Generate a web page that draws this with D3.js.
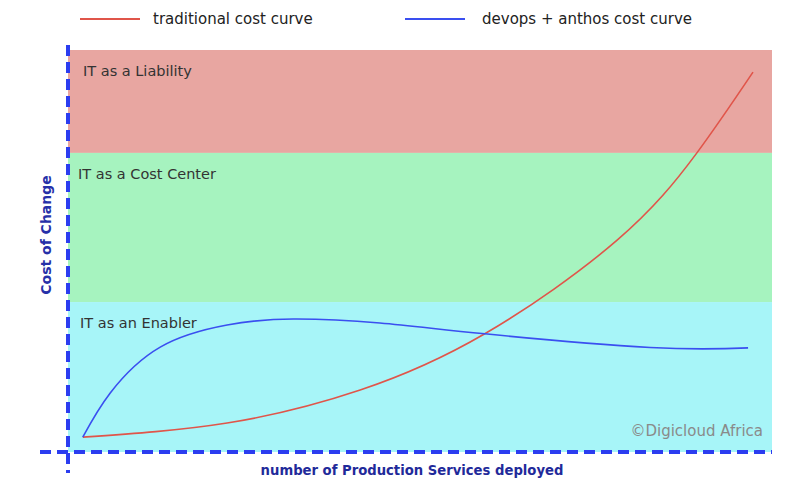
<!DOCTYPE html>
<html><head><meta charset="utf-8">
<script src="https://cdn.jsdelivr.net/npm/d3@7"></script>
<style>body{margin:0;background:#fff}svg{display:block}text{font-family:"DejaVu Sans",sans-serif}</style>
</head><body>
<svg id="c" width="800" height="502"></svg>
<script>
// Data (x: production services deployed, 0-100 ; y: cost of change, 0-100)
const bandLabels = ["IT as a Liability", "IT as a Cost Center", "IT as an Enabler"];
const bandLow  = [74.4, 37.3, 0];
const bandHigh = [100, 74.4, 37.3];
const bandColors = ["#e8a6a1", "#a6f3bf", "#a7f5f8"];

const seriesNames = ["traditional cost curve", "devops + anthos cost curve"];
const seriesColors = ["#e0554a", "#3a4ff0"];
const traditionalX = [2.1, 22.6, 41.5, 59.2, 78.0, 89.2, 97.3];
const traditionalY = [3.7, 7.2, 15.4, 29.4, 52.7, 74.1, 94.5];
const devopsX = [2.1, 6.0, 13.1, 22.6, 32.0, 44.3, 59.2, 82.7, 96.6];
const devopsY = [3.7, 14.7, 26.1, 31.6, 33.1, 32.1, 29.4, 26.0, 25.9];

const svg = d3.select("#c");
const x = d3.scaleLinear().domain([0, 100]).range([68, 772]);
const y = d3.scaleLinear().domain([0, 100]).range([452, 50]);

// bands
bandLabels.forEach((lab, i) => {
  svg.append("rect").attr("x", x(0)).attr("width", x(100) - x(0))
    .attr("y", y(bandHigh[i])).attr("height", y(bandLow[i]) - y(bandHigh[i]))
    .attr("fill", bandColors[i]);
});
const labelDx = [15, 10, 12];
bandLabels.forEach((lab, i) => {
  svg.append("text").attr("x", x(0) + labelDx[i]).attr("y", y(bandHigh[i]) + 26)
    .attr("font-size", 14.5).attr("fill", "#333").text(lab);
});

// watermark
svg.append("text").attr("x", 763).attr("y", 436).attr("text-anchor", "end")
  .attr("font-size", 15).attr("fill", "#8a8a8a").text("\u00A9Digicloud Africa");

// curves
const line = d3.line().x(d => x(d[0])).y(d => y(d[1])).curve(d3.curveNatural);
const series = [d3.zip(traditionalX, traditionalY), d3.zip(devopsX, devopsY)];
series.forEach((s, i) => {
  svg.append("path").attr("d", line(s)).attr("fill", "none")
    .attr("stroke", seriesColors[i]).attr("stroke-width", 1.6);
});

// dashed axes
const axisColor = "#2b3df0";
svg.append("line").attr("x1", x(0)).attr("x2", x(0)).attr("y1", 45).attr("y2", 473)
  .attr("stroke", axisColor).attr("stroke-width", 4).attr("stroke-dasharray", "11,6");
svg.append("line").attr("x1", 40).attr("x2", x(100)).attr("y1", y(0)).attr("y2", y(0))
  .attr("stroke", axisColor).attr("stroke-width", 4).attr("stroke-dasharray", "11,6");

// axis titles
svg.append("text").attr("transform", "translate(51,235) rotate(-90)")
  .attr("text-anchor", "middle").attr("font-size", 14).attr("font-weight", "bold")
  .attr("fill", "#2630a8").text("Cost of Change");
svg.append("text").attr("x", 412).attr("y", 475).attr("text-anchor", "middle")
  .attr("font-size", 13.2).attr("font-weight", "bold").attr("fill", "#1f2a9a")
  .text("number of Production Services deployed");

// legend
const legX = [80, 405], legTextX = [153, 482];
seriesNames.forEach((n, i) => {
  svg.append("line").attr("x1", legX[i]).attr("x2", legX[i] + 60).attr("y1", 19).attr("y2", 19)
    .attr("stroke", seriesColors[i]).attr("stroke-width", 2);
  svg.append("text").attr("x", legTextX[i]).attr("y", 24).attr("font-size", 15)
    .attr("fill", "#222").text(n);
});
</script>
</body></html>
